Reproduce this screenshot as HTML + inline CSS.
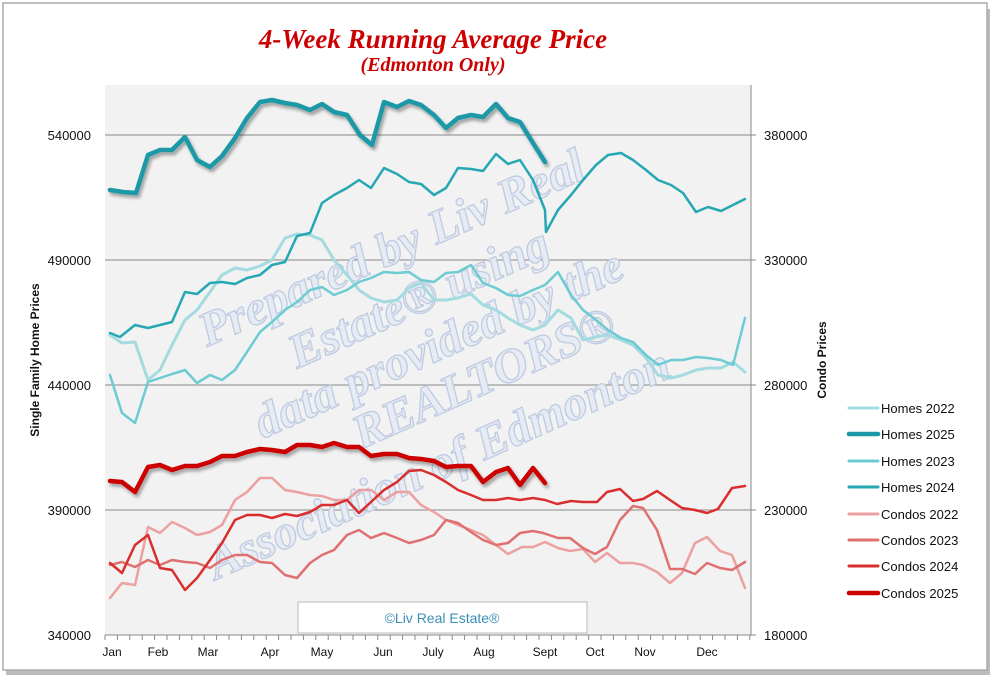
<!DOCTYPE html>
<html><head><meta charset="utf-8"><style>
body{margin:0;background:#fff;}
svg{display:block;font-family:"Liberation Sans",sans-serif;}
</style></head><body>
<svg width="1000" height="684" viewBox="0 0 1000 684" xmlns="http://www.w3.org/2000/svg">
<defs>
<filter id="sh" x="-5%" y="-5%" width="110%" height="110%"><feDropShadow dx="2" dy="3" stdDeviation="1.5" flood-color="#000" flood-opacity="0.35"/></filter>
</defs>
<rect x="0" y="0" width="1000" height="684" fill="#fff"/>
<rect x="6" y="9" width="984" height="666" fill="#bbb"/>
<rect x="3" y="3" width="984" height="667" fill="#fff" stroke="#aaa" stroke-width="1.5"/>
<text x="433" y="48" text-anchor="middle" font-family="Liberation Serif,serif" font-weight="bold" font-style="italic" font-size="27" fill="#cc0000">4-Week Running Average Price</text>
<text x="433" y="71" text-anchor="middle" font-family="Liberation Serif,serif" font-weight="bold" font-style="italic" font-size="20" fill="#cc0000">(Edmonton Only)</text>
<rect x="105" y="85" width="646" height="550" fill="#f2f2f2"/>
<g stroke="#888" stroke-width="1">
<line x1="105" y1="135" x2="756" y2="135"/><line x1="105" y1="260" x2="756" y2="260"/><line x1="105" y1="385" x2="756" y2="385"/><line x1="105" y1="510" x2="756" y2="510"/><line x1="105" y1="635" x2="756" y2="635"/>
<line x1="751" y1="85" x2="751" y2="635"/>
</g>
<g font-size="13" fill="#111" text-anchor="end">
<text x="91" y="140">540000</text><text x="91" y="265">490000</text><text x="91" y="390">440000</text><text x="91" y="515">390000</text><text x="91" y="640">340000</text>
</g>
<g font-size="13" fill="#111">
<text x="764" y="140">380000</text><text x="764" y="265">330000</text><text x="764" y="390">280000</text><text x="764" y="515">230000</text><text x="764" y="640">180000</text>
</g>
<g font-size="12" fill="#111" text-anchor="middle">
<text x="112" y="656">Jan</text><text x="158" y="656">Feb</text><text x="208" y="656">Mar</text><text x="270" y="656">Apr</text><text x="322" y="656">May</text><text x="383" y="656">Jun</text><text x="433" y="656">July</text><text x="484" y="656">Aug</text><text x="545" y="656">Sept</text><text x="595" y="656">Oct</text><text x="645" y="656">Nov</text><text x="707" y="656">Dec</text>
</g>
<text transform="translate(39,360) rotate(-90)" text-anchor="middle" font-size="12" font-weight="bold" fill="#111">Single Family Home Prices</text>
<text transform="translate(826,360) rotate(-90)" text-anchor="middle" font-size="12" font-weight="bold" fill="#111">Condo Prices</text>
<!-- watermark -->
<g font-family="Liberation Serif,serif" font-weight="bold" font-style="italic" font-size="48" fill="#e6ebf4" stroke="#bfcbe0" stroke-width="1.3" text-anchor="middle">
<text transform="translate(398,262) rotate(-24)">Prepared by Liv Real</text>
<text transform="translate(425,312) rotate(-24)">Estate® using</text>
<text transform="translate(445,358) rotate(-24)">data provided by the</text>
<text transform="translate(490,392) rotate(-24)">REALTORS®</text>
<text transform="translate(445,478) rotate(-24)">Association of Edmonton</text>
</g>
<g fill="none" stroke-linejoin="round" stroke-linecap="round">
<polyline stroke="#a3dbe1" stroke-width="3" points="110,335 122,343 135,342 148,380 160,370 172,345 185,320 197,310 210,292 222,275 235,268 247,270 260,266 272,260 285,238 297,234 310,235 322,240 334,260 347,275 359,290 371,298 384,302 397,300 409,288 421,283 434,300 446,300 458,298 471,294 483,305 496,310 508,318 520,325 533,330 545,325 558,310 571,318 583,340 596,337 608,335 621,340 633,345 646,358 658,375 671,378 683,375 696,370 708,368 721,368 733,362 745,372"/>
<polyline stroke="#6ccbd3" stroke-width="2.5" points="110,375 122,413 135,423 148,382 160,378 172,374 185,370 197,383 210,375 222,380 235,370 247,352 260,332 272,322 285,310 297,302 310,290 322,287 334,295 347,290 359,282 371,278 384,272 397,273 409,272 421,280 434,282 446,273 458,272 471,265 483,283 496,288 508,295 520,296 533,290 545,285 558,272 571,295 583,310 596,320 608,330 621,338 633,342 646,355 658,365 671,360 683,360 696,357 708,358 721,360 733,365 745,318"/>
<polyline stroke="#26a7b4" stroke-width="2.5" points="110,333 120,337 135,325 148,328 160,325 172,322 185,292 197,294 210,283 222,282 235,284 247,278 260,275 272,265 285,262 297,236 310,233 322,203 334,195 347,188 359,180 371,188 384,168 397,174 409,182 421,184 434,195 446,188 458,168 471,169 483,171 496,154 508,164 520,160 533,180 545,210 546,232 558,210 571,195 583,180 596,165 608,155 621,153 633,160 646,170 658,180 671,185 683,193 696,212 708,207 721,211 733,205 745,199"/>
<polyline stroke="#eca0a0" stroke-width="2.5" points="110,598 122,583 135,585 148,527 160,533 172,522 185,528 197,535 210,532 222,525 235,500 247,492 260,478 272,478 285,490 297,492 310,495 322,496 334,500 347,500 359,490 371,490 384,500 397,492 409,492 421,505 434,512 446,520 458,525 471,530 483,535 496,545 508,554 522,547 533,547 545,542 558,548 570,551 583,549 595,562 607,553 620,563 633,563 643,565 657,572 670,583 682,573 695,543 707,537 720,551 732,555 745,588"/>
<polyline stroke="#e07070" stroke-width="2.5" points="110,565 122,562 135,567 148,560 160,565 172,560 185,562 197,563 210,568 222,560 235,555 247,555 260,562 272,563 285,575 297,578 310,563 322,555 334,550 347,535 359,530 371,538 384,533 397,538 409,543 421,540 434,535 446,520 458,523 471,532 483,540 496,545 508,543 520,533 533,531 543,533 558,538 570,538 583,548 595,554 607,547 620,520 633,506 643,508 657,530 670,569 682,569 695,574 707,563 720,568 732,570 745,562"/>
<polyline stroke="#d92e2e" stroke-width="2.5" points="110,563 122,573 135,545 148,535 160,568 172,570 185,590 197,578 210,560 222,543 235,520 247,515 260,515 272,518 285,514 297,516 310,512 322,505 334,505 347,500 359,513 371,502 384,490 397,482 409,471 421,470 434,475 446,482 458,490 471,495 483,500 496,500 508,498 520,500 533,498 545,500 557,504 571,501 583,502 597,502 607,492 620,489 633,501 643,499 657,491 670,500 682,508 695,510 707,513 718,509 732,488 745,486"/>
<g filter="url(#sh)">
<polyline stroke="#cc0000" stroke-width="4.5" points="110,481 122,482 135,492 148,467 160,465 172,470 185,466 197,466 210,462 222,456 235,456 247,452 260,449 272,450 285,452 297,445 310,445 322,447 334,443 347,447 359,447 371,456 384,454 397,454 409,458 421,459 434,461 446,467 458,466 471,466 483,482 496,472 508,468 520,485 533,468 545,483"/>
<polyline stroke="#1a98a6" stroke-width="4.5" points="110,190 123,192 136,193 148,155 160,150 172,150 185,137 197,160 210,167 222,156 235,138 247,118 260,102 272,100 285,103 297,105 310,110 322,104 334,112 347,115 360,135 372,145 384,102 397,107 409,101 421,105 434,115 446,128 458,118 471,115 483,117 496,104 508,118 520,122 533,143 545,162"/>
</g>
</g>
<rect x="298" y="602" width="289" height="31" fill="#fff" stroke="#bbb"/>
<text x="442" y="623" text-anchor="middle" font-size="14" fill="#3b8fb5">©Liv Real Estate®</text>
<g stroke-linecap="round">
<line x1="849" y1="408" x2="878" y2="408" stroke="#a3dbe1" stroke-width="3"/>
<line x1="849" y1="434" x2="878" y2="434" stroke="#1a98a6" stroke-width="4.5"/>
<line x1="849" y1="461" x2="878" y2="461" stroke="#6ccbd3" stroke-width="3"/>
<line x1="849" y1="487" x2="878" y2="487" stroke="#26a7b4" stroke-width="3"/>
<line x1="849" y1="514" x2="878" y2="514" stroke="#eca0a0" stroke-width="3"/>
<line x1="849" y1="540" x2="878" y2="540" stroke="#e07070" stroke-width="3"/>
<line x1="849" y1="566" x2="878" y2="566" stroke="#d92e2e" stroke-width="3"/>
<line x1="849" y1="593" x2="878" y2="593" stroke="#cc0000" stroke-width="4.5"/>
</g>
<g font-size="13" fill="#111">
<text x="881" y="413">Homes 2022</text><text x="881" y="439">Homes 2025</text><text x="881" y="466">Homes 2023</text><text x="881" y="492">Homes 2024</text><text x="881" y="519">Condos 2022</text><text x="881" y="545">Condos 2023</text><text x="881" y="571">Condos 2024</text><text x="881" y="598">Condos 2025</text>
</g>
<g stroke="#888">
<path d="M105 635v5M117.4 635v5M129.8 635v5M142.2 635v5M154.6 635v5M167 635v5M179.4 635v5M191.8 635v5M204.2 635v5M216.6 635v5M229 635v5M241.4 635v5M253.8 635v5M266.2 635v5M278.6 635v5M291 635v5M303.4 635v5M315.8 635v5M328.2 635v5M340.6 635v5M353 635v5M365.4 635v5M377.8 635v5M390.2 635v5M402.6 635v5M415 635v5M427.4 635v5M439.8 635v5M452.2 635v5M464.6 635v5M477 635v5M489.4 635v5M501.8 635v5M514.2 635v5M526.6 635v5M539 635v5M551.4 635v5M563.8 635v5M576.2 635v5M588.6 635v5M601 635v5M613.4 635v5M625.8 635v5M638.2 635v5M650.6 635v5M663 635v5M675.4 635v5M687.8 635v5M700.2 635v5M712.6 635v5M725 635v5M737.4 635v5M749.8 635v5"/>
</g>
</svg>
</body></html>
